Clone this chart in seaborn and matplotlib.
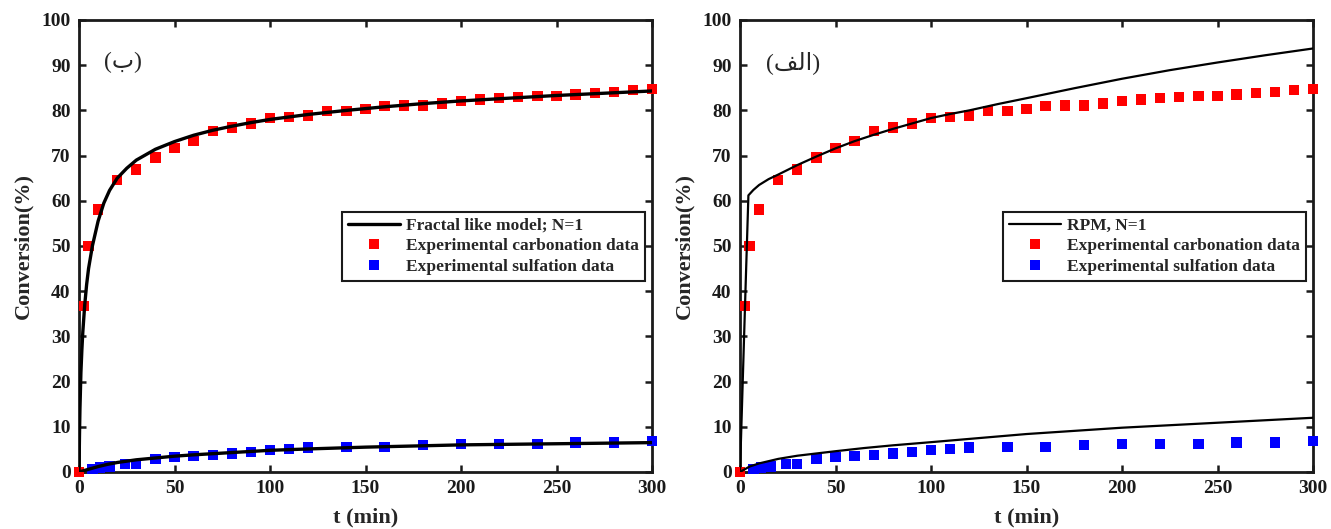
import matplotlib
matplotlib.use("Agg")
import matplotlib.pyplot as plt
import seaborn as sns
from matplotlib.lines import Line2D

# ---------------- data ----------------
t_carb = [0, 2.5, 5, 10, 20, 30, 40, 50, 60, 70, 80, 90, 100, 110, 120, 130, 140,
          150, 160, 170, 180, 190, 200, 210, 220, 230, 240, 250, 260, 270, 280, 290, 300]
x_carb = [0, 36.8, 50.0, 58.1, 64.6, 66.9, 69.6, 71.7, 73.3, 75.4, 76.2, 77.1, 78.3,
          78.6, 78.9, 79.8, 79.8, 80.3, 80.9, 81.1, 81.1, 81.5, 82.1, 82.4, 82.7, 83.0,
          83.2, 83.2, 83.5, 83.8, 84.1, 84.5, 84.7]

t_sulf = [0, 7, 11, 16, 24, 30, 40, 50, 60, 70, 80, 90, 100, 110, 120,
          140, 160, 180, 200, 220, 240, 260, 280, 300]
x_sulf = [0, 0.7, 1.0, 1.2, 1.8, 1.8, 2.8, 3.3, 3.5, 3.8, 4.1, 4.5, 4.8, 5.1, 5.4,
          5.6, 5.6, 5.9, 6.2, 6.2, 6.2, 6.5, 6.5, 6.8]

# fractal-like model (left panel)
t_frac_c = [0, 0.25, 0.5, 1, 1.5, 2, 3, 4, 5, 7, 10, 13, 16, 20, 25, 30, 40, 50, 60,
            70, 80, 90, 100, 120, 140, 160, 180, 200, 225, 250, 275, 300]
x_frac_c = [0, 8, 14, 22, 27, 31, 37, 41.5, 45, 50, 55.5, 59.5, 62.3, 65.0, 67.2, 69.0,
            71.4, 73.1, 74.5, 75.6, 76.5, 77.3, 78.0, 79.1, 80.0, 80.8, 81.5, 82.1,
            82.7, 83.3, 83.8, 84.3]
t_frac_s = [0, 5, 10, 15, 20, 30, 40, 50, 60, 80, 100, 120, 150, 200, 250, 300]
x_frac_s = [0, 0.6, 1.2, 1.7, 2.1, 2.7, 3.1, 3.5, 3.8, 4.3, 4.8, 5.1, 5.5, 6.0, 6.25, 6.5]

# RPM model (right panel)
t_rpm_c = [0, 1, 2, 3, 4.4, 7, 10, 15, 20, 30, 40, 50, 60, 70, 80, 90, 100, 110, 120,
           135, 150, 175, 200, 225, 250, 275, 300]
x_rpm_c = [0, 14, 28, 42, 61.2, 62.4, 63.5, 64.8, 65.8, 67.9, 69.8, 71.6, 73.2, 74.6,
           75.9, 77.1, 78.3, 79.2, 80.0, 81.4, 82.7, 84.9, 87.0, 88.9, 90.6, 92.2, 93.7]
t_rpm_s = [0, 5, 10, 20, 30, 40, 50, 65, 80, 100, 125, 150, 175, 200, 225, 250, 275, 300]
x_rpm_s = [0, 1.2, 1.9, 2.9, 3.6, 4.1, 4.6, 5.3, 5.9, 6.6, 7.5, 8.4, 9.1, 9.8, 10.35,
           10.9, 11.45, 12.0]

x_ticks = [0, 50, 100, 150, 200, 250, 300]
y_ticks = [0, 10, 20, 30, 40, 50, 60, 70, 80, 90, 100]

# panel tags: "(ب)" and "(الف)" (the latter written with Arabic presentation forms in visual order)
panel_tags = ["(\u0628)", "(\uFED2\uFEDF\uFE8D)"]
model_labels = ["Fractal like model; N=1", "RPM, N=1"]
carb_label = "Experimental carbonation data"
sulf_label = "Experimental sulfation data"
x_label = "t (min)"
y_label = "Conversion(%)"

# ---------------- style ----------------
sns.set_theme(style="ticks")
plt.rcParams.update({
    "font.family": ["Liberation Serif", "DejaVu Serif"],
    "font.weight": "bold",
    "axes.labelweight": "bold",
    "axes.edgecolor": "#1a1a1a",
    "axes.linewidth": 2.0,
})

W, H = 1331, 529
fig = plt.figure(figsize=(W / 100, H / 100), dpi=100)
ax_l = fig.add_axes([79 / W, (H - 472) / H, 573 / W, 452 / H])
ax_r = fig.add_axes([740 / W, (H - 472) / H, 573 / W, 452 / H])

panels = [
    (ax_l, t_frac_c, x_frac_c, t_frac_s, x_frac_s, 2.4, panel_tags[0], model_labels[0], (23, 90.5)),
    (ax_r, t_rpm_c, x_rpm_c, t_rpm_s, x_rpm_s, 1.6, panel_tags[1], model_labels[1], (28, 90.5)),
]

for ax, tc, xc, ts, xs, lw, tag, mlabel, tagpos in panels:
    sns.scatterplot(x=t_sulf, y=x_sulf, ax=ax, color="#0000FF", marker="s", s=55,
                    edgecolor="none", linewidth=0, clip_on=False, zorder=3)
    sns.scatterplot(x=t_carb, y=x_carb, ax=ax, color="#FF0000", marker="s", s=55,
                    edgecolor="none", linewidth=0, clip_on=False, zorder=3)
    sns.lineplot(x=tc, y=xc, ax=ax, color="black", linewidth=lw, sort=False,
                 estimator=None, zorder=4)
    sns.lineplot(x=ts, y=xs, ax=ax, color="black", linewidth=lw, sort=False,
                 estimator=None, zorder=4)

    ax.set_xlim(0, 300)
    ax.set_ylim(0, 100)
    ax.set_xticks(x_ticks)
    ax.set_yticks(y_ticks)
    ax.tick_params(direction="in", top=True, right=True, length=5, width=1.8,
                   labelsize=14, pad=6, colors="#1a1a1a", labelcolor="#1a1a1a")
    for lab in ax.get_xticklabels() + ax.get_yticklabels():
        lab.set_fontweight("bold")
    ax.set_xlabel(x_label, fontsize=16, fontweight="bold", labelpad=7)
    ax.set_ylabel(y_label, fontsize=16, fontweight="bold", labelpad=6)
    for sp in ax.spines.values():
        sp.set_visible(True)
        sp.set_linewidth(2.0)

    ax.text(tagpos[0], tagpos[1], tag, fontsize=17, fontweight="normal",
            family=["Liberation Serif", "DejaVu Sans"], ha="center", va="center")

    handles = [
        Line2D([], [], color="black", linewidth=lw),
        Line2D([], [], color="#FF0000", marker="s", linestyle="none", markersize=7,
               markeredgewidth=0),
        Line2D([], [], color="#0000FF", marker="s", linestyle="none", markersize=7,
               markeredgewidth=0),
    ]
    leg = ax.legend(handles, [mlabel, carb_label, sulf_label], loc="upper right",
                    bbox_to_anchor=(0.987, 0.576), frameon=True, fancybox=False,
                    framealpha=1, edgecolor="#1a1a1a", handlelength=3.0,
                    handletextpad=0.3, labelspacing=0.25, borderpad=0.35,
                    borderaxespad=0,
                    prop={"family": "Liberation Serif", "weight": "bold", "size": 12.5})
    leg.get_frame().set_linewidth(1.5)

fig.savefig("out.png", dpi=100)
